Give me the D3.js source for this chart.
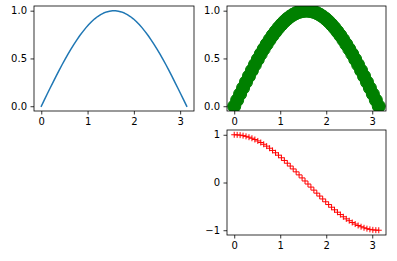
<!DOCTYPE html>
<html>
<head>
<meta charset="utf-8">
<script src="https://cdn.jsdelivr.net/npm/d3@7"></script>
<style>
  body { margin: 0; background: #fff; }
  text { font-family: "DejaVu Sans", sans-serif; font-size: 10px; fill: #000; }
</style>
</head>
<body>
<svg id="fig" width="397" height="261"></svg>
<script>
// 50 sample points over 0..pi
var xs = [0, 0.064, 0.128, 0.192, 0.256, 0.321, 0.385, 0.449, 0.513, 0.577,
  0.641, 0.705, 0.769, 0.833, 0.898, 0.962, 1.026, 1.090, 1.154, 1.218,
  1.282, 1.346, 1.410, 1.475, 1.539, 1.603, 1.667, 1.731, 1.795, 1.859,
  1.923, 1.988, 2.052, 2.116, 2.180, 2.244, 2.308, 2.372, 2.436, 2.500,
  2.565, 2.629, 2.693, 2.757, 2.821, 2.885, 2.949, 3.013, 3.078, 3.142];
var sinVals = [0, 0.064, 0.128, 0.191, 0.253, 0.315, 0.375, 0.434, 0.491, 0.546,
  0.598, 0.648, 0.695, 0.740, 0.781, 0.820, 0.855, 0.887, 0.915, 0.939,
  0.959, 0.975, 0.987, 0.995, 0.999, 0.999, 0.995, 0.987, 0.975, 0.959,
  0.939, 0.915, 0.887, 0.855, 0.820, 0.781, 0.740, 0.695, 0.648, 0.598,
  0.546, 0.491, 0.434, 0.375, 0.315, 0.253, 0.191, 0.128, 0.064, 0];
var cosVals = [1, 0.998, 0.992, 0.982, 0.967, 0.949, 0.927, 0.901, 0.871, 0.838,
  0.801, 0.762, 0.718, 0.672, 0.623, 0.572, 0.518, 0.462, 0.404, 0.345,
  0.284, 0.223, 0.160, 0.096, 0.032, -0.032, -0.096, -0.160, -0.223, -0.284,
  -0.345, -0.404, -0.462, -0.518, -0.572, -0.623, -0.672, -0.718, -0.762, -0.801,
  -0.838, -0.871, -0.901, -0.927, -0.949, -0.967, -0.982, -0.992, -0.998, -1];
var xTicks = [0, 1, 2, 3];
var yTicksTop = [0, 0.5, 1];
var yTicksBottom = [-1, 0, 1];

var svg = d3.select("#fig");

function makeAxes(box, yVals, yTicks, yFmt, id) {
  var xPad = (d3.max(xs) - d3.min(xs)) * 0.05;
  var yPad = (d3.max(yVals) - d3.min(yVals)) * 0.05;
  var x = d3.scaleLinear().domain([d3.min(xs) - xPad, d3.max(xs) + xPad]).range([box.left, box.right]);
  var y = d3.scaleLinear().domain([d3.min(yVals) - yPad, d3.max(yVals) + yPad]).range([box.bottom, box.top]);

  svg.append("clipPath").attr("id", id)
    .append("rect")
    .attr("x", box.left).attr("y", box.top)
    .attr("width", box.right - box.left).attr("height", box.bottom - box.top);

  var g = svg.append("g");
  var plot = g.append("g").attr("clip-path", "url(#" + id + ")");

  var xAxis = d3.axisBottom(x).tickValues(xTicks).tickSize(3.5).tickPadding(3.5).tickFormat(d3.format("d"));
  var yAxis = d3.axisLeft(y).tickValues(yTicks).tickSize(3.5).tickPadding(3.5).tickFormat(yFmt);

  var ga = g.append("g");
  ga.append("g").attr("transform", "translate(0," + box.bottom + ")").call(xAxis);
  ga.append("g").attr("transform", "translate(" + box.left + ",0)").call(yAxis);
  ga.selectAll(".domain").remove();
  ga.selectAll(".tick line").attr("stroke", "#000").attr("stroke-width", 0.8);
  ga.selectAll(".tick text").attr("fill", "#000").style("font-size", "10px")
    .style("font-family", "'DejaVu Sans', sans-serif");

  g.append("rect")
    .attr("x", box.left).attr("y", box.top)
    .attr("width", box.right - box.left).attr("height", box.bottom - box.top)
    .attr("fill", "none").attr("stroke", "#000").attr("stroke-width", 0.8);

  return { x: x, y: y, plot: plot };
}

var fmtTop = d3.format(".1f");
var fmtBottom = function (d) { return d3.format("d")(d).replace("-", "\u2212"); };

// top left: blue line
var a1 = makeAxes({ left: 34, right: 194, top: 6, bottom: 111 }, sinVals, yTicksTop, fmtTop, "c1");
a1.plot.append("path")
  .datum(xs.map(function (d, i) { return [d, sinVals[i]]; }))
  .attr("fill", "none").attr("stroke", "#1f77b4").attr("stroke-width", 1.5)
  .attr("stroke-linejoin", "round").attr("stroke-linecap", "square")
  .attr("d", d3.line().x(function (d) { return a1.x(d[0]); }).y(function (d) { return a1.y(d[1]); }));

// top right: large green circles
var a2 = makeAxes({ left: 227, right: 386, top: 6, bottom: 111 }, sinVals, yTicksTop, fmtTop, "c2");
a2.plot.selectAll("circle")
  .data(xs.map(function (d, i) { return [d, sinVals[i]]; }))
  .enter().append("circle")
  .attr("cx", function (d) { return a2.x(d[0]); })
  .attr("cy", function (d) { return a2.y(d[1]); })
  .attr("r", 6.5)
  .attr("fill", "#008000").attr("stroke", "#008000").attr("stroke-width", 1);

// bottom right: red plus markers
var a3 = makeAxes({ left: 227, right: 386, top: 130, bottom: 235 }, cosVals, yTicksBottom, fmtBottom, "c3");
a3.plot.selectAll("path.plus")
  .data(xs.map(function (d, i) { return [d, cosVals[i]]; }))
  .enter().append("path")
  .attr("class", "plus")
  .attr("d", function (d) {
    var px = a3.x(d[0]), py = a3.y(d[1]), s = 3;
    return "M" + (px - s) + "," + py + "H" + (px + s) + "M" + px + "," + (py - s) + "V" + (py + s);
  })
  .attr("fill", "none").attr("stroke", "#ff0000").attr("stroke-width", 1);
</script>
</body>
</html>
